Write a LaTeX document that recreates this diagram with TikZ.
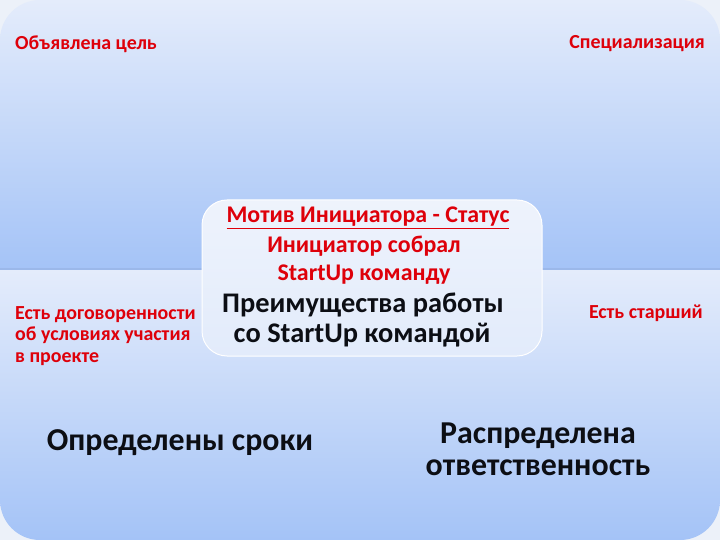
\documentclass[tikz,border=0pt]{standalone}
\usepackage{fontspec}
\setmainfont{Carlito}
\usepackage{tikz}
\definecolor{paleback}{RGB}{236,241,249}
\definecolor{quadtop}{RGB}{228,236,251}
\definecolor{quadbot}{RGB}{164,195,247}
\definecolor{boxtop}{RGB}{238,243,252}
\definecolor{boxbot}{RGB}{226,235,251}
\definecolor{txtred}{RGB}{222,0,10}
\definecolor{txtblack}{RGB}{12,14,20}

\begin{document}
\begin{tikzpicture}[x=1bp,y=-1bp,
  quad/.style={top color=quadtop,bottom color=quadbot},
  redtxt/.style={text=txtred,font=\bfseries\fontsize{20}{21.5}\selectfont,inner sep=0pt},
  boxred/.style={text=txtred,font=\bfseries\fontsize{24}{28}\selectfont,inner sep=0pt},
  boxblack/.style={text=txtblack,font=\bfseries\fontsize{28.5}{30}\selectfont,inner sep=0pt},
  bigtxt/.style={text=txtblack,font=\bfseries\fontsize{32}{32}\selectfont,inner sep=0pt,align=center}]

\useasboundingbox (0,0) rectangle (720,540);
\fill[paleback] (0,0) rectangle (720,540);

\shade[quad] (0,270) -- (0,40) arc (180:270:40) -- (360,0) -- (360,270) -- cycle;
\shade[quad] (360,0) -- (680,0) arc (270:360:40) -- (720,270) -- (360,270) -- cycle;
\shade[quad] (0,270) -- (360,270) -- (360,540) -- (40,540) arc (90:180:40) -- cycle;
\shade[quad] (360,270) -- (720,270) -- (720,500) arc (0:90:40) -- (360,540) -- cycle;
\draw[quadbot!85!black, opacity=0.35, line width=1.5bp] (0,269) -- (720,269);

\node[draw=white, line width=1bp, rounded corners=25bp, top color=boxtop, bottom color=boxbot,
      minimum width=340bp, minimum height=156bp, inner sep=0pt] (core) at (372,278) {};

\node[boxred] (motive) at (368,218) {\underline{Мотив Инициатора - Статус}};
\node[boxred] (gathered) at (364,246) {Инициатор собрал};
\node[boxred] (team) at (364,275) {StartUp команду};
\node[boxblack] (benefit) at (363,305) {Преимущества работы};
\node[boxblack] (benefit2) at (362,335) {со StartUp командой};

\node[redtxt, anchor=west] (goal) at (15,44) {Объявлена цель};
\node[redtxt, anchor=east] (spec) at (705,44) {Специализация};
\node[redtxt, anchor=west, align=left] (agree) at (15,336) {Есть договоренности\\об условиях участия\\в проекте};
\node[redtxt, anchor=east] (senior) at (703,313) {Есть старший};

\node[bigtxt] (terms) at (180,443) {Определены сроки};
\node[bigtxt] (resp) at (538,449) {Распределена\\ответственность};

\end{tikzpicture}
\end{document}
